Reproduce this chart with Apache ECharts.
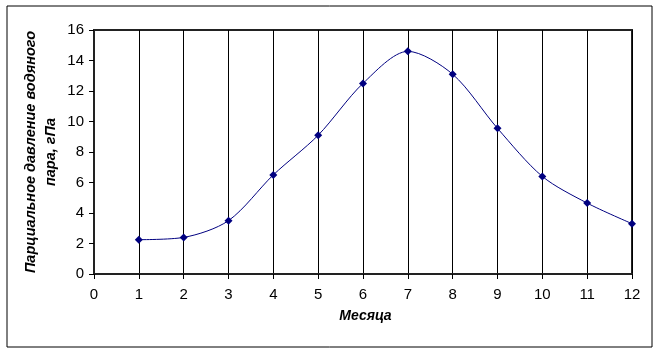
<!DOCTYPE html>
<html>
<head>
<meta charset="utf-8">
<script src="https://cdn.jsdelivr.net/npm/echarts@6/dist/echarts.min.js"></script>
<style>
    html, body { margin: 0; padding: 0; background: #fff; }
    #chart { width: 658px; height: 353px; }
</style>
</head>
<body>
<div id="chart"></div>
<script>
    // месяцы и парциальное давление водяного пара, гПа
    const months = [1, 2, 3, 4, 5, 6, 7, 8, 9, 10, 11, 12];
    const pressure = [2.25, 2.4, 3.5, 6.5, 9.1, 12.5, 14.6, 13.1, 9.55, 6.4, 4.65, 3.3];

    let myChart = echarts.init(document.getElementById('chart'));
    let font = 'Liberation Sans, Arial, sans-serif';
    let options = {
        animation: false,
        graphic: [{
            type: 'rect',
            shape: { x: 7, y: 6, width: 645, height: 341 },
            style: { fill: 'none', stroke: '#000', lineWidth: 1 },
            silent: true
        }],
        grid: {
            left: 94,
            right: 26,
            top: 30,
            bottom: 79,
            outerBoundsMode: 'none',
            show: true,
            borderColor: '#222',
            borderWidth: 2
        },
        xAxis: {
            type: 'value',
            min: 0,
            max: 12,
            interval: 1,
            name: 'Месяца',
            nameLocation: 'middle',
            nameGap: 35,
            nameTextStyle: {
                fontFamily: font,
                fontSize: 14,
                fontWeight: 'bold',
                fontStyle: 'italic',
                color: '#000',
                padding: [0, 0, 0, 5]
            },
            axisLine: { lineStyle: { color: '#222', width: 2 } },
            axisTick: { length: 5, lineStyle: { color: '#000' } },
            axisLabel: {
                fontFamily: font,
                fontSize: 15,
                color: '#000',
                margin: 13
            },
            splitLine: { show: true, lineStyle: { color: '#000', width: 1 } }
        },
        yAxis: {
            type: 'value',
            min: 0,
            max: 16,
            interval: 2,
            name: 'Парциальное давление водяного\nпара, гПа',
            nameLocation: 'middle',
            nameRotate: 90,
            nameGap: 33,
            nameMoveOverlap: false,
            nameTextStyle: {
                fontFamily: font,
                fontSize: 14.5,
                fontWeight: 'bold',
                fontStyle: 'italic',
                color: '#000',
                lineHeight: 20
            },
            axisLine: { show: true, lineStyle: { color: '#222', width: 2 } },
            axisTick: { show: true, length: 5, lineStyle: { color: '#000' } },
            axisLabel: {
                fontFamily: font,
                fontSize: 15,
                color: '#000',
                margin: 10
            },
            splitLine: { show: false }
        },
        series: [{
            type: 'line',
            data: months.map((m, i) => [m, pressure[i]]),
            smooth: 0.3,
            symbol: 'diamond',
            symbolSize: 8,
            lineStyle: { color: '#000080', width: 1 },
            itemStyle: { color: '#000080' }
        }]
    };
    myChart.setOption(options);
</script>
</body>
</html>
